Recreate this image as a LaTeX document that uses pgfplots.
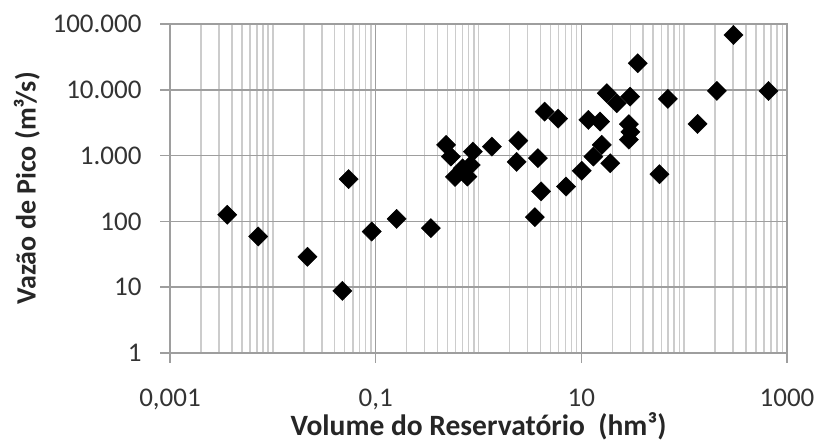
\documentclass[border=0pt]{standalone}
\usepackage{fontspec}
\setmainfont{Carlito}
\usepackage{pgfplots}
\pgfplotsset{compat=1.18}

\begin{document}
\begin{tikzpicture}
\useasboundingbox (-170pt,-92pt) rectangle (648pt,353pt);
\begin{axis}[
  scale only axis, width=617pt, height=329pt,
  xmode=log, ymode=log,
  xmin=1e-3, xmax=1e3, ymin=1, ymax=1e5,
  xtick={1e-3,1e-1,1e1,1e3},
  xticklabels={{0,001},{0,1},10,1000},
  ytick={1,10,100,1000,10000,100000},
  yticklabels={1,10,100,{1.000},{10.000},{100.000}},
  minor xtick={0.002,0.003,0.004,0.005,0.006,0.007,0.008,0.009,0.01,
    0.02,0.03,0.04,0.05,0.06,0.07,0.08,0.09,
    0.2,0.3,0.4,0.5,0.6,0.7,0.8,0.9,1,
    2,3,4,5,6,7,8,9,
    20,30,40,50,60,70,80,90,100,
    200,300,400,500,600,700,800,900},
  minor ytick={},
  xmajorgrids, xminorgrids, ymajorgrids,
  major grid style={draw=black!38, line width=1.5pt},
  minor grid style={draw=black!20, line width=1.5pt},
  axis line style={draw=black!38, line width=1.5pt},
  tick style={draw=black!38, line width=1.5pt},
  tickpos=left, tick align=outside,
  major tick length=10pt, minor tick length=0pt,
  ticklabel style={font=\fontsize{27}{31}\selectfont, text=black!80},
  xticklabel style={yshift=-22pt},
  yticklabel style={xshift=-15pt},
  xlabel={Volume do Reservatório\ \ (hm³)},
  ylabel={Vazão de Pico (m³/s)},
  label style={font=\bfseries\fontsize{28}{32}\selectfont, text=black!85},
  xlabel style={at={(axis description cs:0.5,-0.222)}, anchor=center,
    font=\bfseries\fontsize{29.5}{33}\selectfont},
  ylabel style={at={(axis description cs:-0.232,0.5)}, anchor=center},
]
\addplot[only marks, mark=square*, mark size=6.8pt,
  mark options={rotate=45, fill=black, draw=black}] table {
x y
0.0036 126
0.0072 59
0.0217 29
0.0474 8.8
0.0547 439
0.0916 70
0.160 109
0.344 79
0.484 1455
0.538 966
0.881 1151
0.591 475
0.700 640
0.780 480
0.840 720
1.35 1371
2.44 1690
2.35 803
3.78 914
4.06 286
3.53 116
4.40 4660
5.95 3650
7.11 339
10.1 590
11.7 3486
15.2 3285
13.1 966
15.8 1455
19.1 767
17.7 8870
22.1 6250
29.8 7870
35.4 25300
29.0 3000
30.0 2300
29.0 1750
57.5 522
69.4 7270
135 3030
208 9610
302 68000
661 9610
};
\end{axis}
\end{tikzpicture}
\end{document}
